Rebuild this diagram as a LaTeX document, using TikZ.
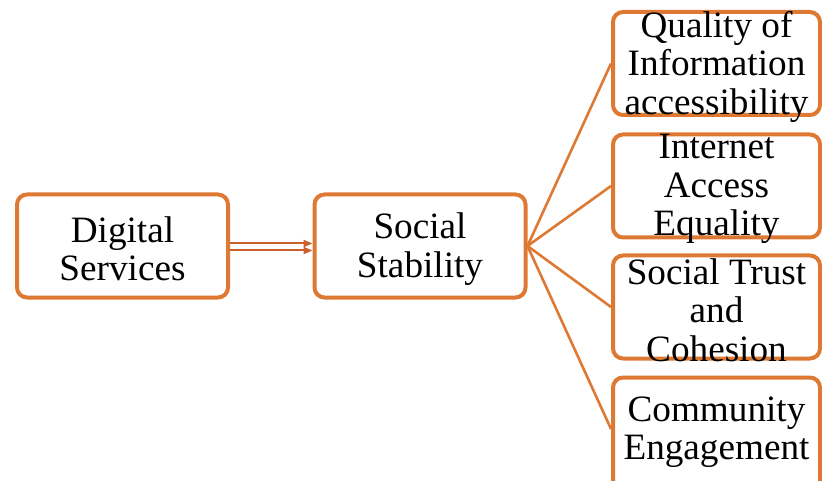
\documentclass[tikz,border=0pt]{standalone}
\usepackage{fontspec}
\setmainfont{Liberation Serif}
\usetikzlibrary{arrows.meta}
\definecolor{boxor}{RGB}{222,121,52}
\definecolor{arror}{RGB}{200,98,42}
\begin{document}
\begin{tikzpicture}[x=1pt,y=-1pt,
  box/.style={draw=boxor, line width=4pt, rounded corners=10pt, inner sep=0pt, fill=white, minimum width=211pt, minimum height=103pt},
  rbox/.style={box, minimum width=207pt},
  txt/.style={font=\fontsize{37.2}{38.5}\selectfont, align=center, inner sep=0pt, text=black, yshift=-3pt},
  fan/.style={draw=boxor, line width=2.6pt},
  arr/.style={draw=arror, line width=2pt, -{Triangle[length=9pt,width=7pt]}}]
\useasboundingbox (0,0) rectangle (822,481);
\clip (0,0) rectangle (822,481);
\node[box, label={[txt]center:{Digital\\Services}}] (D) at (122.5,246) {};
\node[box, label={[txt]center:{Social\\Stability}}] (S) at (420,246) {};
\node[rbox, label={[txt]center:{Quality of\\Information\\accessibility}}] (R1) at (716.5,63.5) {};
\node[rbox, label={[txt]center:{Internet\\Access\\Equality}}] (R2) at (716.5,186) {};
\node[rbox, label={[txt]center:{Social Trust\\and\\Cohesion}}] (R3) at (716.5,307) {};
\node[rbox, minimum height=115pt, label={[txt, yshift=6pt]center:{Community\\Engagement}}] (R4) at (716.5,435) {};
\draw[arr] ([yshift=2.5pt]D.east) -- ([yshift=2.5pt]S.west);
\draw[arr] ([yshift=-4.5pt]D.east) -- ([yshift=-4.5pt]S.west);
\draw[fan] (S.east) -- (R1.west);
\draw[fan] (S.east) -- (R2.west);
\draw[fan] (S.east) -- (R3.west);
\draw[fan] (S.east) -- ([yshift=6pt]R4.west);
\end{tikzpicture}
\end{document}
